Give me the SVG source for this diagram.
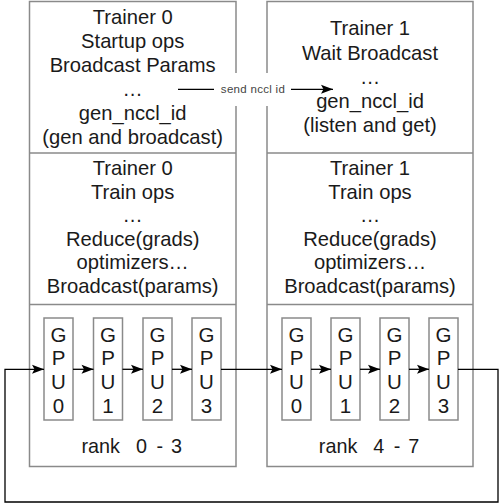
<svg xmlns="http://www.w3.org/2000/svg" width="500" height="504" viewBox="0 0 500 504">
<style>
.box{fill:#fff;stroke:#8a8a8a;stroke-width:1.5}
.t{font-family:"Liberation Sans",Arial,Helvetica,sans-serif;font-size:20.2px;fill:#1a1a1a;text-anchor:middle}
.g{font-family:"Liberation Sans",Arial,Helvetica,sans-serif;font-size:20.5px;fill:#1a1a1a;text-anchor:middle}
.r{font-family:"Liberation Sans",Arial,Helvetica,sans-serif;font-size:19.8px;fill:#1a1a1a;text-anchor:start}
.c{fill:none;stroke:#000;stroke-width:1.3}
.lbl{font-family:"Liberation Sans",Arial,Helvetica,sans-serif;font-size:11.5px;letter-spacing:0.3px;fill:#444;text-anchor:middle}
</style>
<defs>
<marker id="arr" markerUnits="userSpaceOnUse" markerWidth="14" markerHeight="10" refX="13" refY="5" orient="auto">
<path d="M1,0.5 L13,5 L1,9.5 L3.5,5 Z" fill="#000"/>
</marker>
</defs>
<rect width="500" height="504" fill="#fff"/>
<g id="trainer0">
<rect class="box" x="29.5" y="1.5" width="206.5" height="465"/>
<line class="box" x1="29.5" y1="153" x2="236" y2="153"/>
<line class="box" x1="29.5" y1="304.5" x2="236" y2="304.5"/>
<text class="t" x="132.7" y="24">Trainer 0</text>
<text class="t" x="132.7" y="48">Startup ops</text>
<text class="t" x="132.7" y="72">Broadcast Params</text>
<text class="t" x="132.7" y="96">…</text>
<text class="t" x="132.7" y="120">gen_nccl_id</text>
<text class="t" x="132.7" y="143.5">(gen and broadcast)</text>
<text class="t" x="132.7" y="175">Trainer 0</text>
<text class="t" x="132.7" y="198.5">Train ops</text>
<text class="t" x="132.7" y="222">…</text>
<text class="t" x="132.7" y="245.5">Reduce(grads)</text>
<text class="t" x="132.7" y="269">optimizers…</text>
<text class="t" x="132.7" y="292.5">Broadcast(params)</text>
<text class="r" y="453.3"><tspan x="81.5">rank</tspan> <tspan x="136">0</tspan> <tspan x="156.5">-</tspan> <tspan x="171">3</tspan></text>
</g>
<g id="trainer1">
<rect class="box" x="267" y="1.5" width="206" height="465"/>
<line class="box" x1="267" y1="153" x2="473" y2="153"/>
<line class="box" x1="267" y1="304.5" x2="473" y2="304.5"/>
<text class="t" x="370" y="35">Trainer 1</text>
<text class="t" x="370" y="59.5">Wait Broadcast</text>
<text class="t" x="370" y="84">…</text>
<text class="t" x="370" y="108">gen_nccl_id</text>
<text class="t" x="370" y="132">(listen and get)</text>
<text class="t" x="370" y="175">Trainer 1</text>
<text class="t" x="370" y="198.5">Train ops</text>
<text class="t" x="370" y="222">…</text>
<text class="t" x="370" y="245.5">Reduce(grads)</text>
<text class="t" x="370" y="269">optimizers…</text>
<text class="t" x="370" y="292.5">Broadcast(params)</text>
<text class="r" y="453.3"><tspan x="318.8">rank</tspan> <tspan x="373.3">4</tspan> <tspan x="393.8">-</tspan> <tspan x="408.3">7</tspan></text>
</g>
<g id="gpu-l0"><rect class="box" x="44" y="318" width="29" height="102"/><text class="g" x="58.5" y="341.5">G</text><text class="g" x="58.5" y="365">P</text><text class="g" x="58.5" y="389">U</text><text class="g" x="58.5" y="412.5">0</text></g>
<g id="gpu-l1"><rect class="box" x="93.5" y="318" width="29" height="102"/><text class="g" x="108" y="341.5">G</text><text class="g" x="108" y="365">P</text><text class="g" x="108" y="389">U</text><text class="g" x="108" y="412.5">1</text></g>
<g id="gpu-l2"><rect class="box" x="143" y="318" width="29" height="102"/><text class="g" x="157.5" y="341.5">G</text><text class="g" x="157.5" y="365">P</text><text class="g" x="157.5" y="389">U</text><text class="g" x="157.5" y="412.5">2</text></g>
<g id="gpu-l3"><rect class="box" x="192" y="318" width="29" height="102"/><text class="g" x="206.5" y="341.5">G</text><text class="g" x="206.5" y="365">P</text><text class="g" x="206.5" y="389">U</text><text class="g" x="206.5" y="412.5">3</text></g>
<g id="gpu-r0"><rect class="box" x="282" y="318" width="29" height="102"/><text class="g" x="296.5" y="341.5">G</text><text class="g" x="296.5" y="365">P</text><text class="g" x="296.5" y="389">U</text><text class="g" x="296.5" y="412.5">0</text></g>
<g id="gpu-r1"><rect class="box" x="331" y="318" width="29" height="102"/><text class="g" x="345.5" y="341.5">G</text><text class="g" x="345.5" y="365">P</text><text class="g" x="345.5" y="389">U</text><text class="g" x="345.5" y="412.5">1</text></g>
<g id="gpu-r2"><rect class="box" x="380" y="318" width="29" height="102"/><text class="g" x="394.5" y="341.5">G</text><text class="g" x="394.5" y="365">P</text><text class="g" x="394.5" y="389">U</text><text class="g" x="394.5" y="412.5">2</text></g>
<g id="gpu-r3"><rect class="box" x="429" y="318" width="29" height="102"/><text class="g" x="443.5" y="341.5">G</text><text class="g" x="443.5" y="365">P</text><text class="g" x="443.5" y="389">U</text><text class="g" x="443.5" y="412.5">3</text></g>
<g id="connectors">
<path class="c" d="M178,89.3 H333" marker-end="url(#arr)"/>
<rect x="214" y="73" width="77" height="33" fill="#fff"/>
<text class="lbl" x="253" y="93">send nccl id</text>
<path class="c" d="M73,369.3 H93.5" marker-end="url(#arr)"/>
<path class="c" d="M122.5,369.3 H143" marker-end="url(#arr)"/>
<path class="c" d="M172,369.3 H192" marker-end="url(#arr)"/>
<path class="c" d="M221,369.3 H282" marker-end="url(#arr)"/>
<path class="c" d="M311,369.3 H331" marker-end="url(#arr)"/>
<path class="c" d="M360,369.3 H380" marker-end="url(#arr)"/>
<path class="c" d="M409,369.3 H429" marker-end="url(#arr)"/>
<path class="c" d="M458,369.3 H498 V502 H5 V369.3 H44" marker-end="url(#arr)"/>
</g>
</svg>
